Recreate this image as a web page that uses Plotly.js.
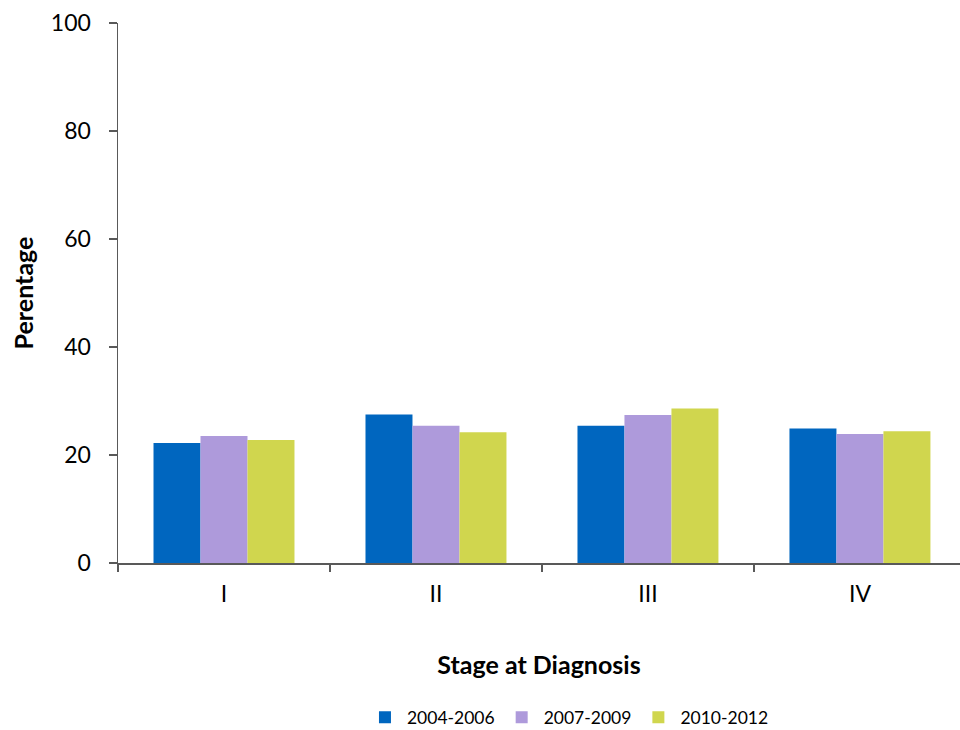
<!DOCTYPE html>
<html>
<head>
<meta charset="utf-8">
<script src="https://cdn.plot.ly/plotly-3.0.1.min.js"></script>
<style>
  html, body { margin: 0; padding: 0; background: #fff; }
  #chart { width: 960px; height: 730px; }
</style>
</head>
<body>
<div id="chart"></div>
<script>
// Stage at diagnosis, share of cases (%) by diagnosis period
const stages = ['I', 'II', 'III', 'IV'];
const periods = ['2004-2006', '2007-2009', '2010-2012'];
const pct2004_2006 = [22.2, 27.5, 25.4, 24.9];
const pct2007_2009 = [23.5, 25.4, 27.4, 23.9];
const pct2010_2012 = [22.8, 24.2, 28.6, 24.4];
const colors = ['#0066BF', '#AE9ADB', '#D0D64E'];

const seriesValues = [pct2004_2006, pct2007_2009, pct2010_2012];
const fontFamily = 'Lato, "Open Sans", "Liberation Sans", sans-serif';

const traces = seriesValues.map((vals, i) => ({
  type: 'bar',
  name: periods[i],
  x: stages,
  y: vals,
  marker: { color: colors[i], line: { width: 0 } },
  hoverinfo: 'x+y+name'
}));

const layout = {
  width: 960,
  height: 730,
  paper_bgcolor: '#ffffff',
  plot_bgcolor: '#ffffff',
  margin: { l: 118, r: 0, t: 23, b: 167, autoexpand: false },
  barmode: 'group',
  bargap: 0.335,
  bargroupgap: 0,
  font: { family: fontFamily, color: '#000' },
  showlegend: true,
  legend: {
    orientation: 'h',
    x: 0.535, xanchor: 'center',
    y: -0.286, yanchor: 'middle',
    font: { size: 17.5, color: '#000' },
    itemwidth: 34,
    tracegroupgap: 0,
    traceorder: 'normal'
  },
  xaxis: {
    type: 'category',
    range: [-0.5, 3.472],
    showline: true,
    linecolor: '#595959',
    linewidth: 1.5,
    ticks: 'outside',
    tickson: 'boundaries',
    ticklen: 7,
    tickcolor: '#595959',
    tickwidth: 1.2,
    ticklabelstandoff: 10,
    tickfont: { size: 23, color: '#000' },
    showgrid: false,
    zeroline: false,
    title: {
      text: '<b>Stage at Diagnosis</b>',
      font: { size: 25, color: '#000' },
      standoff: 50
    }
  },
  yaxis: {
    range: [0, 100],
    tickvals: [0, 20, 40, 60, 80, 100],
    showline: true,
    linecolor: '#595959',
    linewidth: 1.5,
    ticks: 'outside',
    ticklen: 8,
    tickcolor: '#595959',
    tickwidth: 1.2,
    ticklabelstandoff: 13,
    tickfont: { size: 23, color: '#000' },
    showgrid: false,
    zeroline: false,
    title: {
      text: '<b>Perentage</b>',
      font: { size: 25, color: '#000' },
      standoff: 10
    }
  }
};

Plotly.newPlot('chart', traces, layout, { displayModeBar: false, staticPlot: true });
</script>
</body>
</html>
